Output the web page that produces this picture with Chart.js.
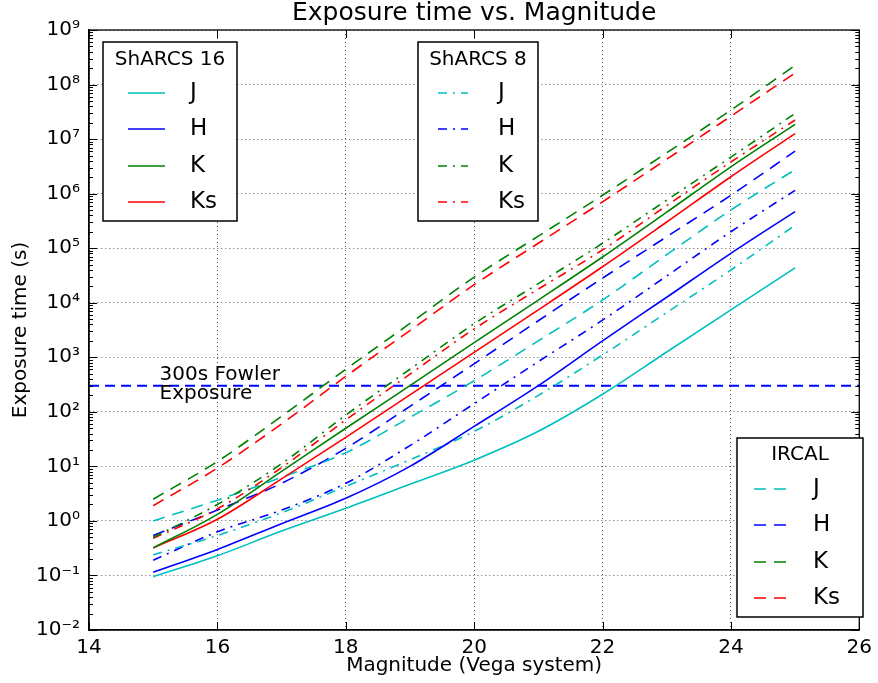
<!DOCTYPE html>
<html>
<head>
<meta charset="utf-8">
<script src="https://cdn.jsdelivr.net/npm/chart.js@4.4.1/dist/chart.umd.min.js"></script>
<style>
  html, body { margin: 0; padding: 0; background: #fff; }
  #wrap { width: 878px; height: 683px; }
</style>
</head>
<body>
<div id="wrap"><canvas id="chart" width="878" height="683"></canvas></div>
<script>
// magnitudes (Vega) where every curve is sampled
const magnitudes = [15, 16, 17, 18, 19, 20, 21, 22, 23, 24, 25];

// exposure time (s), ShARCS 16 (solid)
const sharcs16J  = [0.095, 0.23, 0.65, 1.7, 4.7, 13, 44, 210, 1250, 7400, 43600];
const sharcs16H  = [0.114, 0.30, 0.89, 2.6, 10, 54, 302, 2000, 12600, 80400, 468000];
const sharcs16K  = [0.32, 1.32, 8.1, 50, 302, 1860, 11200, 69000, 457000, 3.1e6, 1.86e7];
const sharcs16Ks = [0.32, 1.07, 5.9, 34, 204, 1230, 7400, 45700, 302000, 2.04e6, 1.26e7];

// exposure time (s), ShARCS 8 (dash-dot)
const sharcs8J  = [0.24, 0.54, 1.41, 4.3, 13.2, 43.7, 200, 1100, 6600, 39800, 263000];
const sharcs8H  = [0.19, 0.63, 1.58, 4.9, 24, 141, 832, 4790, 30900, 200000, 1.15e6];
const sharcs8K  = [0.5, 2.0, 11.2, 87, 603, 4120, 22400, 123000, 759000, 4.68e6, 2.95e7];
const sharcs8Ks = [0.48, 1.66, 9.5, 71, 490, 3310, 17800, 93000, 603000, 3.8e6, 2.24e7];

// exposure time (s), IRCAL (dashed)
const ircalJ  = [1.0, 2.4, 6.3, 17.8, 79, 372, 2000, 11200, 75900, 501000, 2.75e6];
const ircalH  = [0.54, 1.58, 4.9, 21.4, 126, 759, 4680, 28200, 162000, 933000, 6.0e6];
const ircalK  = [2.5, 12.3, 83, 603, 4170, 29500, 166000, 933000, 5.6e6, 3.4e7, 2.24e8];
const ircalKs = [1.9, 9.3, 60, 447, 3090, 21400, 123000, 708000, 4.27e6, 2.63e7, 1.62e8];

// 300 s Fowler exposure reference line
const fowlerX = [14, 26];
const fowlerY = [300, 300];

// axis ticks
const xTicks = [14, 16, 18, 20, 22, 24, 26];
const yTicks = [1e-2, 1e-1, 1e0, 1e1, 1e2, 1e3, 1e4, 1e5, 1e6, 1e7, 1e8, 1e9];

const bands = ['J', 'H', 'K', 'Ks'];
const FONT = '"DejaVu Sans", sans-serif';
const colors = { J: '#00bfbf', H: '#0000ff', K: '#008000', Ks: '#ff0000' };

const groups = [
  { name: 'ShARCS 16', dash: [], series: [sharcs16J, sharcs16H, sharcs16K, sharcs16Ks],
    box: { left: 103, top: 42, width: 134, height: 179, lineFrom: 25, lineTo: 62, textAt: 87, titleY: 18 } },
  { name: 'ShARCS 8', dash: [9, 6, 2, 6], series: [sharcs8J, sharcs8H, sharcs8K, sharcs8Ks],
    box: { left: 418, top: 42, width: 120, height: 179, lineFrom: 20, lineTo: 50, textAt: 80, titleY: 18 } },
  { name: 'IRCAL', dash: [12, 8], series: [ircalJ, ircalH, ircalK, ircalKs],
    box: { left: 737, top: 438, width: 126, height: 179, lineFrom: 17, lineTo: 49, textAt: 76, titleY: 17 } }
];
const rowOffsets = [51, 87, 124, 160];

const datasets = [];
groups.forEach(g => {
  g.series.forEach((vals, i) => {
    datasets.push({
      label: bands[i],
      group: g.name,
      data: magnitudes.map((m, j) => ({ x: m, y: vals[j] })),
      borderColor: colors[bands[i]],
      borderWidth: 1.6,
      borderDash: g.dash,
      pointRadius: 0,
      fill: false,
      cubicInterpolationMode: 'monotone'
    });
  });
});
datasets.push({
  label: '300s Fowler Exposure',
  group: null,
  data: fowlerX.map((x, i) => ({ x: x, y: fowlerY[i] })),
  borderColor: '#0000ff',
  borderWidth: 2,
  borderDash: [10, 6],
  pointRadius: 0,
  fill: false
});

const sup = { '0': '\u2070', '1': '\u00b9', '2': '\u00b2', '3': '\u00b3', '4': '\u2074',
  '5': '\u2075', '6': '\u2076', '7': '\u2077', '8': '\u2078', '9': '\u2079', '-': '\u207b' };
const powerLabel = v => '10' + String(Math.round(Math.log10(v))).split('').map(c => sup[c]).join('');

const titleText = 'Exposure time vs. Magnitude';
const noteLines = ['300s Fowler', 'Exposure'];
const noteX = 15.1;
const noteY = 300;

// inside tick marks, full frame, title and the note text
const framePlugin = {
  id: 'frame',
  afterDatasetsDraw(chart) {
    const { ctx, chartArea: a, scales: { x, y } } = chart;
    ctx.save();
    ctx.strokeStyle = '#000';
    ctx.lineWidth = 1;
    ctx.beginPath();
    xTicks.forEach(v => {
      const px = Math.round(x.getPixelForValue(v)) + 0.5;
      ctx.moveTo(px, a.bottom); ctx.lineTo(px, a.bottom - 8);
      ctx.moveTo(px, a.top); ctx.lineTo(px, a.top + 8);
    });
    yTicks.forEach(v => {
      const py = Math.round(y.getPixelForValue(v)) + 0.5;
      ctx.moveTo(a.left, py); ctx.lineTo(a.left + 8, py);
      ctx.moveTo(a.right, py); ctx.lineTo(a.right - 8, py);
      if (v < 1e9) {
        for (let k = 2; k <= 9; k++) {
          const pm = Math.round(y.getPixelForValue(v * k)) + 0.5;
          ctx.moveTo(a.left, pm); ctx.lineTo(a.left + 4, pm);
          ctx.moveTo(a.right, pm); ctx.lineTo(a.right - 4, pm);
        }
      }
    });
    ctx.stroke();
    ctx.lineWidth = 1.3;
    ctx.strokeRect(a.left, a.top, a.width, a.height);

    ctx.fillStyle = '#000';
    ctx.font = '25px ' + FONT;
    ctx.textAlign = 'center';
    ctx.textBaseline = 'middle';
    ctx.fillText(titleText, (a.left + a.right) / 2, 13);

    ctx.font = '20px ' + FONT;
    ctx.textAlign = 'left';
    ctx.textBaseline = 'alphabetic';
    const nx = x.getPixelForValue(noteX);
    const ny = y.getPixelForValue(noteY);
    ctx.fillText(noteLines[0], nx, ny - 5.5);
    ctx.fillText(noteLines[1], nx, ny + 13.5);
    ctx.restore();
  }
};

// one legend box per instrument
const groupLegends = {
  id: 'groupLegends',
  afterDraw(chart) {
    const { ctx } = chart;
    ctx.save();
    groups.forEach(g => {
      const b = g.box;
      ctx.fillStyle = '#fff';
      ctx.fillRect(b.left, b.top, b.width, b.height);
      ctx.strokeStyle = '#000';
      ctx.lineWidth = 1.5;
      ctx.setLineDash([]);
      ctx.strokeRect(b.left, b.top, b.width, b.height);
      ctx.fillStyle = '#000';
      ctx.font = '20px ' + FONT;
      ctx.textAlign = 'center';
      ctx.textBaseline = 'middle';
      ctx.fillText(g.name, b.left + b.width / 2, b.top + b.titleY);
      const items = chart.data.datasets.filter(d => d.group === g.name);
      items.forEach((d, i) => {
        const yy = b.top + rowOffsets[i];
        ctx.strokeStyle = d.borderColor;
        ctx.lineWidth = d.borderWidth;
        ctx.setLineDash(d.borderDash);
        ctx.beginPath();
        ctx.moveTo(b.left + b.lineFrom, yy);
        ctx.lineTo(b.left + b.lineTo, yy);
        ctx.stroke();
        ctx.setLineDash([]);
        ctx.fillStyle = '#000';
        ctx.font = '23px ' + FONT;
        ctx.textAlign = 'left';
        ctx.fillText(d.label, b.left + b.textAt, yy);
      });
    });
    ctx.restore();
  }
};

new Chart(document.getElementById('chart'), {
  type: 'line',
  data: { datasets: datasets },
  options: {
    responsive: false,
    animation: false,
    devicePixelRatio: 1,
    layout: { padding: { top: 30, right: 10, left: 0, bottom: 0 } },
    plugins: {
      legend: { display: false },
      title: { display: false },
      tooltip: { enabled: false }
    },
    scales: {
      x: {
        type: 'linear',
        min: 14,
        max: 26,
        afterBuildTicks: s => { s.ticks = xTicks.map(v => ({ value: v })); },
        afterFit: s => { s.height = 53; },
        ticks: { color: '#000', font: { family: FONT, size: 20 }, padding: 6, maxRotation: 0, autoSkip: false },
        grid: { color: 'rgba(0,0,0,0.65)', lineWidth: 1, drawTicks: false },
        border: { display: true, color: '#000', width: 1.3, dash: [1, 3] },
        title: { display: true, text: 'Magnitude (Vega system)', color: '#000',
          font: { family: FONT, size: 20 }, padding: { top: 0, bottom: 5 } }
      },
      y: {
        type: 'logarithmic',
        min: 1e-2,
        max: 1e9,
        afterBuildTicks: s => { s.ticks = yTicks.map(v => ({ value: v, major: true })); },
        afterFit: s => { s.width = 89; },
        ticks: { color: '#000', font: { family: FONT, size: 20 }, padding: 9, autoSkip: false,
          callback: v => powerLabel(v) },
        grid: { color: 'rgba(0,0,0,0.65)', lineWidth: 1, drawTicks: false },
        border: { display: true, color: '#000', width: 1.3, dash: [1, 3] },
        title: { display: true, text: 'Exposure time (s)', color: '#000',
          font: { family: FONT, size: 20 }, padding: { top: 9, bottom: 0 } }
      }
    }
  },
  plugins: [framePlugin, groupLegends]
});
</script>
</body>
</html>
